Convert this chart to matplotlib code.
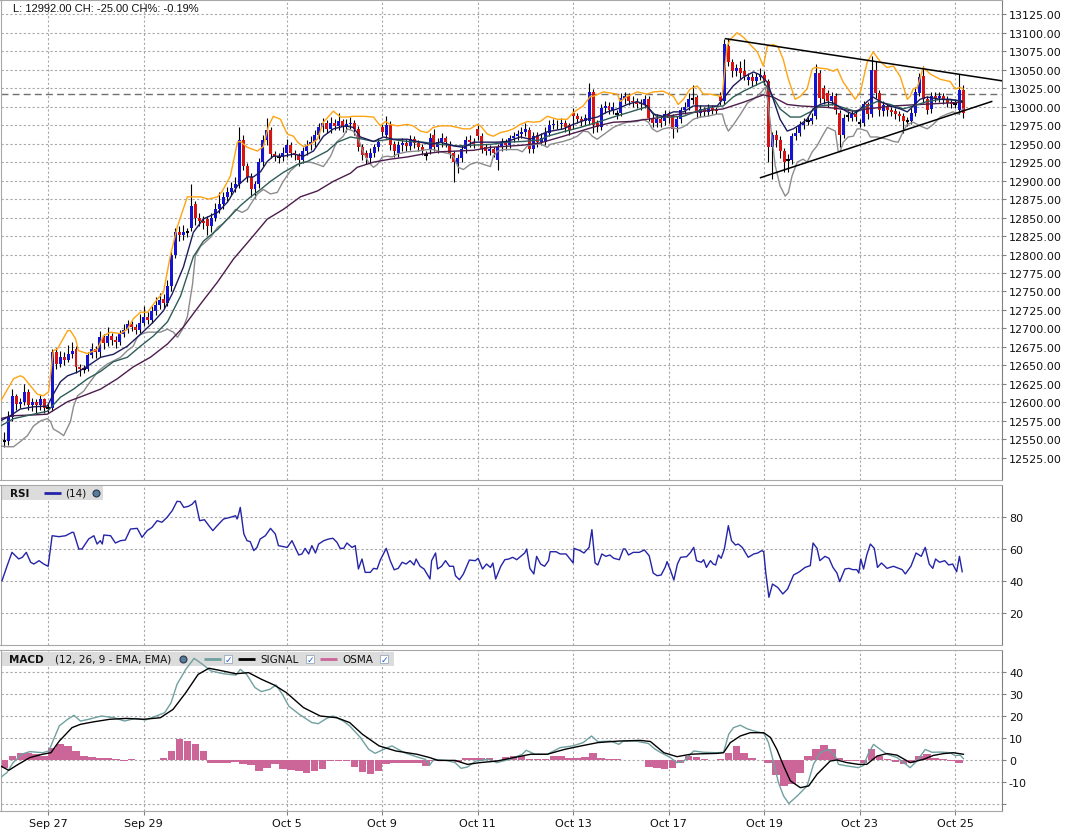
import matplotlib
matplotlib.use("Agg")
import matplotlib.pyplot as plt
from matplotlib.patches import Rectangle
import numpy as np

# ---- candles (2-hour bars) ----
open_ = [12548, 12548, 12580, 12608, 12598, 12600, 12614, 12596, 12600, 12596,
         12604, 12592, 12592, 12668, 12652, 12662, 12658, 12666, 12672, 12648,
         12645, 12645, 12664, 12672, 12668, 12688, 12680, 12690, 12685, 12682,
         12692, 12698, 12706, 12702, 12698, 12708, 12716, 12712, 12724, 12732,
         12740, 12734, 12758, 12800, 12830, 12826, 12830, 12836, 12868, 12850,
         12846, 12848, 12838, 12850, 12862, 12868, 12878, 12885, 12890, 12895,
         12955, 12920, 12905, 12888, 12895, 12925, 12955, 12968, 12936, 12932,
         12932, 12938, 12948, 12938, 12934, 12928, 12940, 12948, 12952, 12962,
         12972, 12978, 12970, 12978, 12974, 12980, 12972, 12976, 12978, 12970,
         12946, 12938, 12930, 12937, 12945, 12972, 12962, 12975, 12950, 12938,
         12948, 12951, 12947, 12956, 12951, 12946, 12934, 12942, 12962, 12945,
         12952, 12957, 12950, 12937, 12922, 12930, 12943, 12955, 12952, 12970,
         12960, 12945, 12940, 12943, 12928, 12945, 12952, 12948, 12957, 12960,
         12963, 12966, 12968, 12943, 12962, 12952, 12952, 12965, 12975, 12977,
         12976, 12978, 12975, 12992, 12987, 12984, 12980, 12980, 13020, 12978,
         12972, 12998, 13001, 12996, 12990, 12992, 13010, 13014, 13008, 13006,
         13005, 13003, 13010, 12985, 12978, 12983, 12980, 12990, 12987, 12972,
         12983, 12995, 13000, 13011, 13013, 12992, 12997, 12993, 12998, 12996,
         13015, 13008, 13082, 13060, 13048, 13052, 13048, 13036, 13040, 13035,
         13040, 13043, 13035, 12945, 12962, 12955, 12940, 12928, 12928, 12960,
         12965, 12975, 12980, 12980, 12988, 13045, 13025, 13018, 13008, 13015,
         12992, 12962, 12988, 12985, 12990, 12978, 12978, 13003, 12990, 13050,
         13018, 12994, 13000, 12996, 12994, 12990, 12988, 12980, 12980, 12992,
         13018, 13042, 13010, 12997, 13015, 13012, 13015, 13010, 13006, 13004,
         12995, 13022]
close = [12548, 12580, 12608, 12598, 12600, 12614, 12596, 12600, 12596, 12604,
         12592, 12592, 12668, 12652, 12662, 12658, 12666, 12670, 12648, 12645,
         12645, 12664, 12672, 12668, 12688, 12680, 12690, 12685, 12682, 12692,
         12698, 12706, 12702, 12698, 12708, 12716, 12712, 12724, 12732, 12738,
         12734, 12758, 12800, 12830, 12826, 12830, 12830, 12866, 12850, 12846,
         12842, 12838, 12850, 12862, 12868, 12878, 12885, 12890, 12895, 12955,
         12920, 12905, 12888, 12895, 12925, 12955, 12968, 12936, 12932, 12932,
         12938, 12948, 12938, 12934, 12928, 12940, 12948, 12952, 12962, 12972,
         12978, 12970, 12978, 12974, 12980, 12972, 12976, 12978, 12970, 12946,
         12934, 12930, 12937, 12945, 12952, 12966, 12975, 12948, 12940, 12948,
         12951, 12947, 12956, 12951, 12946, 12940, 12934, 12958, 12945, 12952,
         12957, 12952, 12937, 12925, 12930, 12943, 12955, 12952, 12950, 12960,
         12943, 12940, 12943, 12938, 12945, 12952, 12948, 12957, 12960, 12963,
         12966, 12970, 12943, 12960, 12952, 12958, 12965, 12975, 12977, 12976,
         12978, 12972, 12968, 12987, 12984, 12980, 12985, 13020, 12975, 12972,
         12998, 13001, 12996, 13000, 12990, 13012, 13014, 13008, 13006, 13004,
         13003, 13010, 12985, 12978, 12983, 12978, 12990, 12985, 12970, 12983,
         12995, 13000, 13010, 13011, 12992, 12997, 12993, 12998, 12995, 12994,
         13008, 13085, 13060, 13048, 13052, 13045, 13042, 13040, 13035, 13040,
         13043, 13035, 12945, 12962, 12955, 12940, 12925, 12928, 12960, 12965,
         12975, 12978, 12980, 12985, 13045, 13012, 13010, 13008, 13015, 12995,
         12962, 12985, 12988, 12990, 12986, 12978, 13003, 12990, 13050, 13018,
         12995, 13002, 12995, 12993, 12990, 12987, 12980, 12980, 12992, 13020,
         13040, 13010, 12995, 13015, 13012, 13015, 13010, 13005, 13003, 13004,
         13022, 12992]
high = [12560, 12588, 12618, 12612, 12606, 12625, 12618, 12606, 12604, 12610,
        12606, 12598, 12672, 12674, 12670, 12668, 12678, 12682, 12676, 12652,
        12650, 12668, 12680, 12676, 12696, 12692, 12702, 12694, 12690, 12698,
        12706, 12712, 12710, 12706, 12720, 12730, 12722, 12730, 12742, 12748,
        12746, 12765, 12806, 12836, 12838, 12840, 12836, 12896, 12872, 12856,
        12852, 12852, 12856, 12870, 12885, 12885, 12892, 12898, 12905, 12972,
        12962, 12924, 12910, 12900, 12930, 12962, 12985, 12972, 12940, 12938,
        12945, 12956, 12952, 12942, 12938, 12946, 12955, 12960, 12968, 12978,
        12985, 12982, 12986, 12984, 12992, 12984, 12984, 12986, 12982, 12974,
        12950, 12942, 12944, 12950, 12958, 12976, 12988, 12980, 12954, 12954,
        12958, 12956, 12962, 12960, 12955, 12950, 12940, 12965, 12970, 12958,
        12964, 12960, 12954, 12940, 12936, 12948, 12960, 12962, 12958, 12975,
        12964, 12950, 12948, 12946, 12950, 12958, 12956, 12962, 12966, 12968,
        12972, 12978, 12972, 12966, 12966, 12964, 12972, 12982, 12984, 12982,
        12985, 12982, 12978, 12998, 12992, 12988, 12990, 13032, 13024, 12982,
        13004, 13008, 13006, 13006, 12996, 13018, 13020, 13018, 13014, 13012,
        13010, 13016, 13014, 12990, 12990, 12988, 12996, 12994, 12990, 12988,
        13000, 13006, 13018, 13030, 13016, 13002, 13000, 13004, 13002, 13000,
        13020, 13092, 13093, 13064, 13058, 13062, 13065, 13046, 13046, 13046,
        13052, 13048, 13038, 12966, 12968, 12960, 12944, 12936, 12964, 12972,
        12980, 12985, 12986, 12992, 13058, 13050, 13030, 13022, 13020, 13018,
        12996, 12990, 12994, 12996, 12994, 12984, 13008, 13006, 13068, 13062,
        13022, 13008, 13004, 13000, 12998, 12994, 12992, 12986, 12998, 13026,
        13046, 13055, 13014, 13020, 13020, 13020, 13018, 13014, 13010, 13010,
        13044, 13030]
low = [12540, 12542, 12575, 12590, 12592, 12596, 12590, 12588, 12584, 12590,
       12585, 12586, 12588, 12645, 12648, 12650, 12654, 12660, 12640, 12636,
       12640, 12642, 12660, 12660, 12662, 12672, 12676, 12678, 12674, 12678,
       12688, 12694, 12696, 12692, 12694, 12704, 12706, 12708, 12718, 12726,
       12728, 12730, 12750, 12795, 12818, 12820, 12824, 12832, 12840, 12838,
       12834, 12826, 12830, 12845, 12856, 12862, 12872, 12880, 12885, 12890,
       12915, 12898, 12878, 12876, 12890, 12920, 12948, 12930, 12926, 12924,
       12926, 12932, 12932, 12928, 12920, 12924, 12935, 12942, 12946, 12956,
       12966, 12964, 12965, 12968, 12968, 12966, 12966, 12970, 12962, 12940,
       12928, 12922, 12924, 12932, 12940, 12960, 12958, 12942, 12932, 12932,
       12940, 12940, 12942, 12944, 12940, 12934, 12928, 12936, 12940, 12938,
       12946, 12945, 12930, 12898, 12910, 12925, 12938, 12946, 12944, 12955,
       12938, 12934, 12934, 12932, 12914, 12940, 12942, 12944, 12952, 12955,
       12958, 12960, 12938, 12938, 12946, 12948, 12948, 12960, 12970, 12970,
       12970, 12966, 12962, 12970, 12978, 12974, 12975, 12976, 12965, 12966,
       12968, 12992, 12990, 12990, 12984, 12988, 13004, 13002, 13000, 12998,
       12996, 12998, 12980, 12972, 12972, 12972, 12975, 12978, 12958, 12966,
       12978, 12990, 12996, 13004, 12985, 12986, 12988, 12988, 12990, 12990,
       13002, 13004, 13055, 13040, 13042, 13038, 13036, 13030, 13028, 13030,
       13036, 13030, 12925, 12902, 12945, 12930, 12912, 12912, 12922, 12955,
       12960, 12970, 12975, 12976, 12984, 13005, 13004, 13000, 13002, 12990,
       12945, 12958, 12980, 12980, 12980, 12972, 12974, 12984, 12986, 13012,
       12988, 12988, 12988, 12988, 12984, 12980, 12965, 12974, 12976, 12988,
       13014, 13005, 12990, 12992, 13006, 13006, 13004, 13000, 12998, 12998,
       12990, 12985]

# ---- price overlays: (bar index, price) ----
upper_band = [(-1, 12601), (0.8, 12618), (2.3, 12632), (4, 12636), (4.8, 12634), (6.6, 12622),
              (8.3, 12611), (9.8, 12609), (11.1, 12614), (12.3, 12670), (13.3, 12672), (15.9, 12697),
              (16.6, 12697), (17.9, 12686), (18.6, 12670), (20.9, 12666), (23.4, 12672), (24.9, 12690),
              (26.7, 12695), (29.2, 12693), (30.9, 12699), (32.4, 12713), (34.2, 12722), (36, 12722),
              (38.5, 12740), (40, 12749), (41.7, 12798), (43.5, 12838), (46, 12878), (49.3, 12878),
              (51.3, 12875), (53.6, 12878), (54.8, 12886), (56.8, 12906), (58.6, 12952), (59.3, 12953),
              (61.1, 12945), (63.6, 12940), (65.1, 12946), (66.4, 12974), (67.6, 12987), (69.4, 12983),
              (71.1, 12963), (72.7, 12960), (73.7, 12952), (75.2, 12946), (76.9, 12949), (78.7, 12956),
              (80.2, 12979), (82.7, 12994), (84.5, 12986), (86.2, 12986), (87.7, 12987), (90.2, 12987),
              (92.8, 12986), (94.5, 12974), (95.8, 12980), (97, 12976), (98.8, 12974), (101.3, 12976),
              (102.8, 12974), (104.6, 12967), (106.3, 12965), (107.8, 12972), (109.6, 12974), (112.1, 12974),
              (113.9, 12972), (115.4, 12970), (117.1, 12970), (118.9, 12976), (119.7, 12974), (121.4, 12963),
              (122.9, 12960), (124.7, 12965), (126.4, 12967), (127.9, 12970), (129.7, 12976), (131.5, 12980),
              (133, 12979), (134.7, 12980), (136.5, 12987), (139, 12983), (141.5, 12983), (143, 12992),
              (145.5, 13001), (147.3, 13014), (148, 13014), (150.6, 13020), (154.1, 13017), (154.8, 13007),
              (156.6, 13014), (159.1, 13020), (161.6, 13017), (163.1, 13020), (165.6, 13021), (168.2, 13014),
              (169.4, 13003), (170.7, 13010), (172.4, 13024), (174.2, 13028), (175.7, 13017), (177.5, 13017),
              (180, 13014), (180.5, 13017), (181.7, 13082), (182.5, 13091), (184.2, 13100), (185.8, 13094),
              (187.5, 13084), (189.3, 13074), (190.8, 13055), (191.8, 13082), (193.3, 13084), (194.5, 13081),
              (195.8, 13064), (197.1, 13037), (198.8, 13010), (200.1, 13014), (201.8, 13024), (203.1, 13051),
              (203.8, 13053), (206.9, 13051), (208.4, 13048), (209.4, 13051), (210.9, 13033), (212.1, 13024),
              (213.9, 13010), (215.2, 13020), (216.9, 13060), (218.4, 13074), (220.2, 13061), (221.9, 13053),
              (223.5, 13055), (225.2, 13041), (227, 13010), (227.7, 13014), (228.5, 13024), (229.5, 13026),
              (231, 13053), (232.8, 13044), (235.3, 13037), (237.8, 13034), (239, 13024), (240.3, 13026),
              (241, 13024)]
lower_band = [(-1, 12541), (0.8, 12540), (2.3, 12540), (4, 12547), (5.8, 12555), (7.3, 12568),
              (9.1, 12575), (10.8, 12578), (11.6, 12574), (12.3, 12564), (13.6, 12560), (14.9, 12555),
              (16.6, 12574), (17.4, 12595), (18.4, 12609), (19.9, 12615), (21.6, 12628), (23.4, 12641),
              (24.2, 12645), (25.9, 12652), (27.4, 12656), (29.2, 12661), (30.9, 12670), (32.4, 12676),
              (33.4, 12688), (34.2, 12692), (36, 12695), (37.5, 12695), (39.2, 12695), (41, 12699),
              (41.7, 12697), (42.5, 12695), (43.5, 12688), (44.8, 12699), (46, 12716), (47.3, 12760),
              (48, 12798), (49.3, 12811), (51.8, 12823), (53.6, 12837), (54.8, 12841), (56.8, 12852),
              (58.1, 12861), (59.8, 12857), (61.1, 12861), (61.9, 12868), (63.6, 12882), (65.1, 12888),
              (66.9, 12882), (68.6, 12884), (70.1, 12899), (71.9, 12913), (73.7, 12922), (75.2, 12925),
              (76.9, 12925), (78.7, 12922), (80.2, 12919), (82, 12933), (83.5, 12952), (85.2, 12960),
              (86.2, 12970), (87.7, 12967), (89, 12956), (90.2, 12939), (91.5, 12925), (92.8, 12918),
              (93.8, 12922), (95, 12932), (96.3, 12933), (97.5, 12932), (98.8, 12936), (101.3, 12939),
              (103.8, 12940), (106.3, 12942), (107.8, 12942), (109.6, 12939), (112.1, 12936), (112.9, 12932),
              (114.1, 12918), (115.4, 12915), (117.1, 12922), (118.9, 12925), (120.4, 12922), (122.2, 12919),
              (122.9, 12933), (124, 12940), (125.4, 12942), (127.2, 12942), (129, 12942), (130.2, 12939),
              (131.5, 12947), (133, 12949), (134.7, 12950), (136.5, 12945), (137.2, 12949), (140.5, 12953),
              (142.3, 12956), (144, 12960), (145.5, 12967), (146.8, 12966), (147.8, 12960), (149, 12956),
              (149.8, 12959), (151.6, 12966), (153.1, 12972), (154.8, 12976), (156.6, 12979), (159.1, 12980),
              (160.6, 12983), (161.9, 12979), (162.9, 12970), (164.1, 12966), (165.6, 12970), (167.4, 12972),
              (169.2, 12970), (170.4, 12972), (171.7, 12976), (173.2, 12983), (174.9, 12986), (176.7, 12987),
              (179.2, 12990), (180.5, 12990), (181.2, 12976), (182, 12967), (183.2, 12975), (185.2, 12991),
              (186.8, 13005), (188.3, 13010), (190, 13018), (191.3, 13026), (192, 13005), (193, 12956),
              (193.8, 12920), (195, 12893), (196.3, 12879), (197.1, 12884), (198, 12906), (199.3, 12925),
              (200.8, 12929), (201.8, 12925), (203.1, 12939), (204.3, 12947), (205.6, 12960), (206.9, 12972),
              (208.1, 12969), (208.9, 12967), (209.6, 12940), (210.1, 12939), (210.9, 12952), (212.1, 12959),
              (213.4, 12960), (214.4, 12970), (215.2, 12970), (216.9, 12967), (217.7, 12959), (219.4, 12959),
              (221.9, 12956), (223.5, 12953), (224.7, 12952), (226, 12967), (227, 12976), (228.5, 12979),
              (230.2, 12974), (232, 12970), (233.5, 12976), (235.3, 12986), (237, 12990), (238.5, 12993),
              (239.8, 12990), (241, 12997)]
ma_fast = [(-1, 12575), (1.5, 12582), (4, 12591), (7.3, 12594), (10.8, 12595), (12.3, 12611),
           (14.1, 12628), (15.9, 12636), (18.4, 12641), (20.9, 12649), (24.2, 12661), (27.4, 12665),
           (30.9, 12676), (34.2, 12692), (37.5, 12709), (40, 12724), (42.2, 12747), (45, 12783),
           (47.5, 12830), (50, 12848), (53.6, 12857), (56.1, 12871), (58.6, 12893), (61.1, 12905),
           (62.6, 12905), (64.4, 12912), (66.1, 12926), (67.6, 12933), (70.1, 12933), (72.7, 12936),
           (75.2, 12933), (77.7, 12940), (80.2, 12960), (82.7, 12970), (85.7, 12974), (87.7, 12972),
           (89.5, 12959), (92.8, 12953), (95.3, 12959), (97.8, 12956), (101.3, 12956), (104.6, 12952),
           (107.1, 12949), (109.6, 12952), (112.9, 12947), (115.4, 12945), (117.9, 12952), (121.4, 12952),
           (123.9, 12952), (126.4, 12953), (129.7, 12959), (132.2, 12956), (136.5, 12966), (140.5, 12970),
           (143, 12976), (146.5, 12983), (149.1, 12986), (151.6, 12993), (154.1, 12997), (156.6, 13003),
           (159.1, 13007), (161.6, 13001), (163.1, 12990), (165.6, 12987), (168.2, 12993), (170.7, 12993),
           (173.2, 13001), (175.7, 13001), (179.2, 13001), (181.2, 13014), (183.2, 13028), (185.8, 13040),
           (188.3, 13047), (190, 13043), (191.8, 13033), (193.3, 13010), (195, 12983), (196.8, 12967),
           (198.3, 12970), (200.1, 12976), (201.8, 12983), (203.3, 12997), (205.1, 13003), (206.9, 13006),
           (208.4, 13005), (210.1, 12999), (211.9, 12993), (213.4, 12990), (215.2, 12997), (216.9, 13007),
           (218.4, 13013), (220.2, 13007), (222.7, 13001), (225.2, 12997), (227, 12993), (228.5, 13001),
           (230.2, 13010), (232, 13013), (235.3, 13010), (237.8, 13010), (240.8, 13007)]
ma_mid = [(-1, 12568), (2.3, 12578), (7.3, 12584), (10.8, 12588), (14.1, 12607), (17.4, 12618),
          (20.9, 12632), (24.2, 12642), (27.4, 12655), (30.9, 12661), (34.2, 12676), (37.5, 12690),
          (41, 12709), (44.3, 12744), (47.5, 12797), (50, 12818), (53.6, 12834), (56.8, 12852),
          (59.3, 12866), (61.9, 12878), (64.4, 12888), (66.9, 12899), (70.1, 12911), (73.7, 12922),
          (76.2, 12926), (78.7, 12933), (81.2, 12940), (83.7, 12952), (87, 12959), (90.2, 12956),
          (92.8, 12953), (97, 12956), (101.3, 12953), (105.3, 12952), (109.6, 12949), (113.9, 12947),
          (117.9, 12948), (122.2, 12949), (126.4, 12952), (130.5, 12953), (134.7, 12955), (136.5, 12960),
          (140.5, 12966), (144.8, 12972), (149.1, 12979), (153.1, 12986), (157.4, 12993), (161.6, 13000),
          (164.1, 12986), (167.4, 12986), (170.7, 12987), (174.2, 12994), (178.2, 13000), (180.7, 13001),
          (183.2, 13013), (185.8, 13021), (189.3, 13030), (190.8, 13034), (192.5, 13020), (195, 12997),
          (197.6, 12986), (200.1, 12986), (202.6, 12993), (205.1, 13001), (208.4, 13003), (211.9, 12997),
          (214.4, 12993), (216.9, 13001), (219.4, 13007), (222.7, 13003), (226, 12997), (228.5, 13001),
          (232, 13007), (235.3, 13010), (240.8, 13008)]
ma_slow = [(-1, 12578), (2.3, 12582), (7.3, 12583), (10.8, 12584), (15.9, 12601), (19.9, 12609),
           (24.2, 12618), (28.4, 12632), (32.4, 12648), (36.7, 12661), (41, 12679), (45, 12702),
           (49.3, 12733), (53.6, 12763), (57.6, 12794), (61.9, 12821), (66.1, 12848), (70.1, 12861),
           (74.4, 12878), (78.7, 12886), (82.7, 12899), (87, 12910), (88.7, 12918), (92.8, 12925),
           (97, 12929), (101.3, 12932), (105.3, 12936), (109.6, 12939), (117.9, 12941), (122.2, 12945),
           (130.5, 12948), (134.7, 12951), (140.5, 12960), (144.8, 12967), (149.1, 12974), (153.1, 12979),
           (157.4, 12980), (161.6, 12983), (165.6, 12986), (169.9, 12990), (174.2, 12993), (180.7, 12997),
           (185.8, 13006), (190.8, 13016), (193.3, 13013), (196.8, 13003), (200.1, 13001), (206.9, 12999),
           (210.1, 12997), (213.4, 12994), (216.9, 12997), (223.5, 13001), (230.2, 13003), (240.8, 13006)]
trend_upper = [(181.3, 13092), (250.8, 13035)]
trend_lower = [(190.1, 12904), (248.2, 13007)]
prev_close = 13017

# ---- RSI(14): (bar index, value) ----
rsi = [(-0.6, 40.2), (0.7, 49.6), (1.9, 57.9), (3.6, 53.8), (4.5, 54.8), (5.5, 57.9), (6.6, 51.7),
       (7.4, 50.6), (8.7, 52.7), (9.9, 50.6), (11, 49.2), (12, 68.3), (13.7, 67.7), (15.4, 68.3),
       (17, 70.4), (17.4, 70.4), (18.7, 60), (19.5, 60), (21.2, 66.3), (22.5, 68.3), (23.3, 63.1),
       (24.1, 65.2), (24.6, 63.1), (25, 68.75), (26.7, 68.3), (27.9, 63.75), (29.2, 65.2), (30.4, 65.6),
       (31.7, 72.5), (33.4, 72.9), (34.6, 67.3), (35.9, 71.5), (37.1, 73.5), (38.4, 77.7), (39.6, 76.7),
       (40.9, 79.8), (42.2, 84), (43.4, 89.8), (44.2, 89.6), (45.1, 86), (46.3, 86.7), (47.2, 88),
       (48, 90.2), (49.1, 77.7), (50.3, 78.3), (51.4, 74.6), (52.4, 71.5), (53.5, 74.6), (55.1, 78.75),
       (56.8, 79.8), (58.1, 80.8), (58.5, 78.75), (58.9, 81.9), (59.3, 86), (60.2, 69.4), (61, 65.2),
       (61.8, 64.6), (62.7, 59), (63.5, 61), (64.3, 66.25), (65.6, 68.3), (66.9, 72.9), (68.1, 69.4),
       (68.9, 62.1), (71.1, 61), (72.3, 65.2), (74, 56.25), (74.8, 56.9), (75.6, 60.4), (76.5, 56.9),
       (77.3, 62.1), (78.2, 57.5), (79, 63.1), (80.3, 65.2), (81.5, 66.25), (82.6, 66.7), (83.6, 64.2),
       (84.4, 60.4), (85.3, 60.4), (86.1, 63.75), (87.4, 61), (88.2, 62.1), (89, 47.5), (89.9, 53.75),
       (90.7, 45.4), (92, 45.4), (92.8, 47.9), (93.7, 47.5), (94.5, 53.1), (96, 60.4), (97, 52.7),
       (98, 47), (99, 47.9), (100, 51.7), (101, 50.6), (102, 52.7), (103, 50), (103.5, 53.75),
       (104.5, 49.2), (105.5, 47.5), (107, 41.25), (107.4, 52.7), (108.4, 57.5), (108.9, 47.5),
       (109.9, 49.2), (110.9, 52.7), (111.9, 49.2), (112.9, 49.2), (113.4, 43.3), (114.4, 40.8),
       (115.4, 44.4), (116.9, 53.1), (118.4, 52.7), (119.1, 54.2), (120.2, 47.5), (121.2, 50.6),
       (122.2, 48.5), (122.8, 51.25), (123.5, 41.25), (124.8, 49.2), (125.8, 53.3), (126.8, 53.75),
       (127.8, 54.8), (128.8, 53.3), (129.8, 55.4), (130.8, 57.5), (131.3, 60), (132.1, 47.9),
       (133.1, 44.4), (133.8, 55.4), (134.8, 50.6), (135.8, 49.2), (136.8, 52.7), (137.2, 58.3),
       (138.7, 58.3), (139.7, 56.9), (141.2, 56.9), (143, 51.25), (143.2, 60.4), (144.7, 59),
       (145.7, 57.5), (147, 61), (147.7, 72.1), (148.5, 51.25), (149.2, 50), (150.2, 56.9),
       (151.2, 55.4), (152.2, 56.25), (153.2, 54.2), (154.6, 53.3), (155.6, 60), (156.1, 60),
       (156.9, 56.25), (158.1, 57.9), (159.6, 57.9), (160.9, 59.4), (162.1, 55.8), (163.1, 45),
       (164.1, 43.3), (165.1, 43.75), (166.1, 48.5), (166.6, 52.1), (167.4, 47.1), (168.3, 40.6),
       (169.2, 50.6), (170, 54.8), (171.5, 55.2), (172.5, 57.9), (173.3, 61), (174, 52.7),
       (175.2, 51.7), (175.8, 53.3), (176.5, 48.5), (177.5, 52.7), (178.2, 50.6), (178.8, 50),
       (179.5, 56.25), (180.2, 54.2), (181, 60), (182, 74.6), (182.8, 65.2), (183.8, 62.5),
       (184.5, 63.1), (185.5, 61), (187, 54.8), (188.4, 56.9), (189.4, 57.5), (190.4, 59),
       (190.9, 58.3), (191.4, 45.4), (192.2, 29.8), (193.1, 38.1), (194.4, 36), (195.7, 31.9),
       (196.9, 35), (198.4, 43.75), (199.9, 45.8), (201.3, 48.5), (202.6, 49.6), (203.3, 63.75),
       (204.3, 60.4), (205, 52.7), (206.3, 55.4), (207.3, 54.2), (208.3, 48.5), (209.3, 45),
       (210, 39.6), (211.3, 47.5), (212.3, 47.9), (213.3, 47.1), (214.3, 47.1), (214.8, 45),
       (215.3, 53.75), (216, 47.5), (216.8, 56.25), (217.7, 63.1), (218.7, 60.4), (219.5, 48.5),
       (220.5, 51.25), (221.9, 47.9), (223.5, 49.2), (224.9, 47.9), (225.7, 47.1), (226.5, 44.4),
       (227.9, 49.2), (229.2, 57.5), (230.5, 55.4), (231.5, 61), (232.5, 50.6), (233.4, 47.9),
       (234.1, 53.75), (235.1, 51.7), (236.4, 52.7), (237.4, 50), (238.4, 50.6), (239.4, 45.8),
       (240.1, 55.4), (240.8, 45.8)]

# ---- MACD(12, 26, 9) ----
macd = [(-1, -8), (0.6, -5.8), (2.2, -1.2), (4.3, 2.6), (6.4, 3.8), (9.6, 3.3), (11.2, 4.1),
        (12.2, 8.6), (13.8, 15.5), (15.9, 18.5), (17.5, 20.3), (19.1, 17.7), (21.2, 18.5), (24.4, 20),
        (27.6, 19.2), (30.2, 17.7), (32.9, 18.9), (35.5, 18.2), (38.2, 20), (40.3, 21.5), (41.9, 26),
        (43.4, 34.4), (45.6, 41.2), (47.7, 46.2), (49.8, 43.5), (51.9, 40.5), (55.1, 39.2), (58.2, 38.6),
        (59.3, 41.2), (60.9, 38.9), (63, 32.9), (64.6, 31.1), (66.7, 32.1), (68.3, 34.1), (69.9, 29.8),
        (71.5, 24.5), (74.1, 20.8), (77.3, 17), (78.9, 16.5), (81, 18.9), (82.6, 20), (85.2, 17.7),
        (86.8, 15.5), (89.5, 10.2), (91.6, 4.8), (93.2, 3), (95.3, 4.8), (97.4, 6.4), (100.6, 3.3),
        (103.7, 1.4), (105.8, 0.3), (106.9, -2.3), (108, 0.3), (111.1, -0.2), (113.3, -1.2), (114.8, -3.8),
        (116.4, -3.2), (118.5, -0.5), (121.7, 0.3), (123.8, -1.2), (127, 0.3), (130.2, 2.6), (131.2, 4.4),
        (133.4, 2.6), (136.5, 2.6), (139.7, 5.6), (142.9, 6.4), (145.5, 7.9), (147.6, 10.9), (149.2, 8.3),
        (152.4, 8.6), (154.5, 7.1), (155.6, 8.6), (158.7, 8.6), (161.9, 7.5), (163.5, 5), (164.9, 3.5),
        (167.4, 1.1), (169.1, -1.2), (170.8, -0.5), (173.3, 4.1), (175.8, 3.5), (179.2, 3.3), (180.8, 3.5),
        (182.1, 11.7), (183.3, 14.7), (185, 15.8), (186.7, 14.2), (188.4, 13.2), (190.9, 12.1), (192.1, 7.9),
        (193.4, -1.2), (194.6, -10.3), (195.9, -16.4), (197.2, -19.8), (199.3, -16.4), (201.8, -11.8),
        (203.4, -2), (205.1, 3.3), (207.2, 4.8), (208.9, 1.8), (209.7, -2), (211.8, -2.7), (214.7, -3.5),
        (216, -2.5), (217.3, 3.3), (218.5, 7.1), (220.2, 4.8), (221.9, 2.6), (224.4, 1.1), (226.1, -1.2),
        (227.7, -3.5), (229.4, -0.5), (231.5, 4.8), (233.2, 3.5), (235.3, 3.6), (237.8, 3.3), (239, 2),
        (240.3, 2.2), (241.1, 0.6)]
signal = [(-1, -2.7), (1.1, -4.7), (3.2, -2.3), (6.4, 1.1), (9.6, 2.6), (11.7, 3.3), (13.8, 8.6),
          (17, 14.7), (19.1, 16.2), (22.3, 17.3), (26.5, 18.5), (30.7, 18.9), (35, 18.5), (39.2, 19.2),
          (42.4, 23), (45.6, 30.6), (48.7, 38.9), (51.4, 41.7), (54, 40.8), (58.2, 39.2), (61.4, 39.7),
          (64.6, 36.7), (67.8, 34.1), (70.9, 30.6), (75.2, 23.8), (79.4, 20), (83.6, 19.2), (86.8, 17),
          (90, 11.7), (94.2, 6.4), (98.4, 4.1), (103.7, 2.6), (106.9, 1.1), (109, -0.2), (113.3, -0.2),
          (116.4, -2), (119.6, -1.2), (123.8, -0.5), (128.1, 1.1), (132.3, 2.6), (136.5, 2.6), (140.8, 4.8),
          (145, 6.4), (149.2, 7.9), (154.5, 8.6), (159.8, 8.9), (162.4, 8.4), (165.8, 3.3), (169.1, 1.5),
          (172.5, 2.6), (175, 2.8), (179.2, 3), (180.8, 3.3), (182.5, 7.9), (185, 10.9), (187.5, 12.4),
          (190.9, 12.4), (192.6, 10.2), (194.2, 4.8), (195.9, -2.7), (197.6, -9.5), (200.1, -12.6),
          (202.2, -11.8), (204.3, -6.5), (207.6, -0.5), (209.3, 0), (211.8, -1.2), (214.7, -2), (216.8, -2),
          (219.4, 1.8), (221.9, 2.9), (224.4, 2.2), (227.7, -1.2), (231.1, 0.3), (233.6, 2.1), (236.1, 2.9),
          (238.6, 3.3), (241.1, 2.6)]
# OSMA histogram, one value for every second bar starting at bar 0
osma = [-3.5, 2, 3, 3.3, 2.8, 2, 5.5, 7.4, 6.5, 4, 1.8, 1.2, 1, 1, 0.3, -0.5, 0.3, 0.2, 0, 0.2,
        1, 4, 9.4, 8.6, 7.1, 4.1, -1.2, -1.2, -1.2, -0.8, -2, -2.5, -5, -3.5, -2, -4.2, -4.5, -5, -5.8, -5,
        -4.2, -0.5, -0.5, -0.5, -3, -5.5, -6.5, -5, -2, -1.2, -1.2, -1.2, -1.2, -2.7, -0.3, 0, 0, -0.8, 1, 1,
        0.8, 0.8, -0.5, 1.2, 1.8, 1.8, 0.3, 0.3, 0.5, 1.8, 1.8, 1, 1, 1.2, 3.3, 0.8, 0.3, 0.3, 0, 0,
        0, -3, -3.7, -3.9, -3.5, -1.5, 1.8, 1.5, 0.3, 0.2, 0.5, 3.3, 6.4, 3, 1, 0, -1.2, -7, -12, -11,
        -6, 1.8, 5, 6.7, 5, 1, -0.5, -0.5, -1.5, 4.8, 2, 0.3, -1, -2, -1.5, 1.8, 2.6, 1, 0.3, -0.5,
        -1.2]

date_pos = [11, 35, 71, 95, 119, 143, 167, 191, 215, 239]
date_lbl = ["Sep 27", "Sep 29", "Oct 5", "Oct 9", "Oct 11", "Oct 13", "Oct 17", "Oct 19", "Oct 23", "Oct 25"]

W, H = 1069, 837
fig = plt.figure(figsize=(W / 100, H / 100), dpi=100)


def box(x0, y0, x1, y1):
    return [x0 / W, 1 - y1 / H, (x1 - x0) / W, (y1 - y0) / H]


def px(x, y):
    return x / W, 1 - y / H


ax_p = fig.add_axes(box(0.5, 0.5, 1002, 481))
ax_r = fig.add_axes(box(0.5, 486, 1002, 646))
ax_m = fig.add_axes(box(0.5, 651, 1002, 812))

for ax in (ax_p, ax_r, ax_m):
    ax.yaxis.tick_right()
    ax.set_xticks(date_pos)
    ax.tick_params(axis="y", direction="out", length=3, width=0.8, color="#808080",
                   labelsize=8, pad=2, labelcolor="#111111")
    ax.tick_params(axis="x", length=0, labelbottom=False)
    ax.grid(True, color="#a8a8a8", linewidth=0.8, linestyle=(0, (2, 2)))
    ax.set_axisbelow(True)
    for s in ax.spines.values():
        s.set_color("#a8a8a8")
    ax.spines["right"].set_color("#808080")

# ---- price panel ----
idx = np.arange(len(close))
o = np.array(open_, dtype=float)
c = np.array(close, dtype=float)
hi = np.array(high, dtype=float)
lo = np.array(low, dtype=float)

ax_p.axhline(prev_close, color="#707070", lw=1, ls=(0, (5, 3)), zorder=1.5)
ax_p.vlines(idx, lo, hi, color="black", lw=0.8, zorder=2)
up = c > o
dn = c < o
eq = c == o
ax_p.bar(idx[up], (c - o)[up], bottom=o[up], width=0.75, color="#1414d2", lw=0, zorder=3)
ax_p.bar(idx[dn], (c - o)[dn], bottom=o[dn], width=0.75, color="#d71414", lw=0, zorder=3)
ax_p.hlines(c[eq], idx[eq] - 0.45, idx[eq] + 0.45, color="black", lw=1.5, zorder=3)

for series, col in [(lower_band, "#8c8c8c"), (ma_slow, "#4c1c4c"), (ma_mid, "#2e5c58"),
                    (ma_fast, "#1c1c5c"), (upper_band, "#ffa412")]:
    xs, ys = zip(*series)
    ax_p.plot(xs, ys, color=col, lw=1, zorder=4)
for tl in (trend_upper, trend_lower):
    xs, ys = zip(*tl)
    ax_p.plot(xs, ys, color="black", lw=1.1, zorder=5)

price_ticks = np.arange(12525, 13126, 25)
ax_p.set_yticks(price_ticks)
ax_p.set_yticklabels([f"{v:.2f}" for v in price_ticks])
ax_p.set_ylim(12495, 13145)

fig.text(*px(13, 9), "L: 12992.00 CH: -25.00 CH%: -0.19%", fontsize=8,
         family="Liberation Sans", va="center", ha="left", color="#111111")

# ---- RSI panel ----
xs, ys = zip(*rsi)
ax_r.plot(xs, ys, color="#2424a8", lw=1, zorder=4)
ax_r.set_yticks([20, 40, 60, 80])
ax_r.set_ylim(0, 100)

# ---- MACD panel ----
ax_m.bar(np.arange(len(osma)) * 2, osma, width=1.9, color="#cc6699", lw=0, zorder=2)
xs, ys = zip(*macd)
ax_m.plot(xs, ys, color="#70a0a0", lw=1, zorder=4)
xs, ys = zip(*signal)
ax_m.plot(xs, ys, color="black", lw=1, zorder=4.5)
ax_m.set_yticks([-20, -10, 0, 10, 20, 30, 40])
ax_m.set_yticklabels(["", "-10", "0", "10", "20", "30", "40"])
ax_m.set_ylim(-23.2, 50)
ax_m.set_xticklabels(date_lbl)
ax_m.tick_params(axis="x", labelbottom=True, length=3, width=0.8, color="#808080",
                 labelsize=8, pad=2, labelcolor="#111111")

for ax in (ax_p, ax_r, ax_m):
    ax.set_xlim(-0.98, 250.8)


# ---- legend labels ----
def lbox(ax, x0, y0, x1, y1):
    ax.add_patch(Rectangle(px(x0, y1), (x1 - x0) / W, (y1 - y0) / H, transform=fig.transFigure,
                           facecolor="#dcdcdc", edgecolor="none", zorder=1.2, clip_on=False))


def ltext(ax, x, y, s, bold=False):
    ax.text(*px(x, y), s, transform=fig.transFigure, fontsize=7.5, va="center", ha="left",
            fontweight="bold" if bold else "normal", color="#111111", zorder=1.3, clip_on=False)


def lline(ax, x0, x1, y, col):
    ax.plot([x0 / W, x1 / W], [1 - y / H, 1 - y / H], transform=fig.transFigure, color=col,
            lw=2, zorder=1.3, clip_on=False, solid_capstyle="butt")


def licon(ax, x, y):
    ax.plot([x / W], [1 - y / H], transform=fig.transFigure, marker="o", ms=5, color="#5a7c9c",
            mec="#25384a", mew=0.8, zorder=1.3, clip_on=False)


def lcheck(ax, x, y):
    ax.add_patch(Rectangle(px(x - 4, y + 4), 8 / W, 8 / H, transform=fig.transFigure,
                           facecolor="white", edgecolor="#9aaabb", lw=0.6, zorder=1.3, clip_on=False))
    ax.text(*px(x, y), "\u2713", transform=fig.transFigure, fontsize=6.5, fontweight="bold",
            color="#1a5fd0", va="center", ha="center", zorder=1.4, clip_on=False)


lbox(ax_r, 2, 487, 103, 501)
ltext(ax_r, 10, 494, "RSI", bold=True)
lline(ax_r, 44, 61, 494, "#2424a8")
ltext(ax_r, 65, 494, "(14)")
licon(ax_r, 96, 494)

lbox(ax_m, 2, 653, 394, 667)
ltext(ax_m, 9, 660, "MACD", bold=True)
ltext(ax_m, 55, 660, "(12, 26, 9 - EMA, EMA)")
licon(ax_m, 183, 660)
lline(ax_m, 204, 221, 660, "#70a0a0")
lcheck(ax_m, 228, 660)
lline(ax_m, 238, 255, 660, "black")
ltext(ax_m, 260, 660, "SIGNAL")
lcheck(ax_m, 310, 660)
lline(ax_m, 320, 337, 660, "#cc6699")
ltext(ax_m, 342, 660, "OSMA")
lcheck(ax_m, 384, 660)

fig.savefig("out.png", dpi=100)
